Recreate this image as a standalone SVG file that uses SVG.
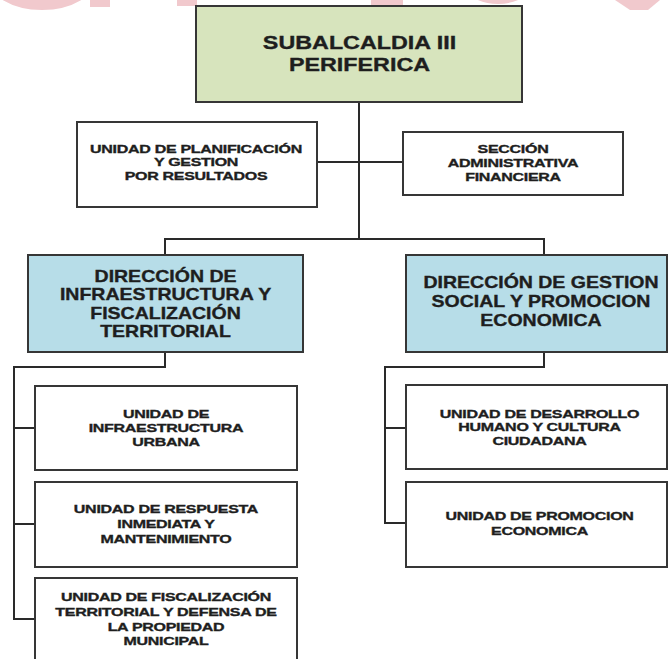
<svg xmlns="http://www.w3.org/2000/svg" width="668" height="659" viewBox="0 0 668 659">
<style>
.bx{stroke:#363636;stroke-width:2}
.wh{fill:#ffffff}
.gr{fill:#d7e4bd}
.bl{fill:#b7dde8}
.t{font-family:"Liberation Sans",Arial,sans-serif;font-weight:bold;fill:#1e1e1e;stroke:#1e1e1e;stroke-width:0.35;text-anchor:middle}
.big{font-size:18.5px}
.mid{font-size:16px}
.sm{font-size:11.5px;letter-spacing:-0.2px}
.cn{stroke:#2a2a2a;stroke-width:2;fill:none}
.wm{fill:#f1c9cd;stroke:none}
.wmr{fill:none;stroke:#f1c9cd;stroke-width:14}
</style>
<rect width="668" height="659" fill="#ffffff"/>
<g id="watermark">
<ellipse class="wmr" cx="42" cy="-27" rx="50" ry="30"/>
<rect class="wm" x="90" y="0" width="20" height="7"/>
<rect class="wm" x="177" y="0" width="20" height="6"/>
<rect class="wm" x="371" y="0" width="32" height="7"/>
<ellipse class="wmr" cx="498" cy="-35" rx="38" ry="32"/>
<polygon class="wm" points="615,0 660,0 648,10 630,10"/>
</g>
<g id="connectors">
<path class="cn" d="M359,102 V239" stroke-width="2.5"/>
<path class="cn" d="M317,162 H403"/>
<path class="cn" d="M165,255 V239 H544 V255"/>
<path class="cn" d="M165,352 V367 H14 V619 H35 M14,428 H35 M14,524 H35"/>
<path class="cn" d="M544,352 V367 H385 V523 H406 M385,428 H406"/>
</g>
<g id="subalcaldia">
<rect class="bx gr" x="196" y="6" width="326" height="96"/>
<g transform="translate(359.5,0) scale(1.26,1)">
<text class="t big" x="0" y="49">SUBALCALDIA III</text>
<text class="t big" x="0" y="71">PERIFERICA</text>
</g>
</g>
<g id="planificacion">
<rect class="bx wh" x="77" y="122" width="240" height="85"/>
<g transform="translate(196,0) scale(1.39,1)">
<text class="t sm" x="0" y="153">UNIDAD DE PLANIFICACIÓN</text>
<text class="t sm" x="0" y="166.5">Y GESTION</text>
<text class="t sm" x="0" y="180">POR RESULTADOS</text>
</g>
</g>
<g id="seccion-admin">
<rect class="bx wh" x="403" y="132" width="220" height="63"/>
<g transform="translate(513,0) scale(1.39,1)">
<text class="t sm" x="0" y="153">SECCIÓN</text>
<text class="t sm" x="0" y="167">ADMINISTRATIVA</text>
<text class="t sm" x="0" y="181">FINANCIERA</text>
</g>
</g>
<g id="dir-infraestructura">
<rect class="bx bl" x="28" y="255" width="275" height="97"/>
<g transform="translate(165.5,0) scale(1.22,1)">
<text class="t mid" x="0" y="282">DIRECCIÓN DE</text>
<text class="t mid" x="0" y="300.5">INFRAESTRUCTURA Y</text>
<text class="t mid" x="0" y="319">FISCALIZACIÓN</text>
<text class="t mid" x="0" y="337.5">TERRITORIAL</text>
</g>
</g>
<g id="dir-gestion-social">
<rect class="bx bl" x="406" y="255" width="261" height="97"/>
<g transform="translate(541,0) scale(1.22,1)">
<text class="t mid" x="0" y="288">DIRECCIÓN DE GESTION</text>
<text class="t mid" x="0" y="307">SOCIAL Y PROMOCION</text>
<text class="t mid" x="0" y="326">ECONOMICA</text>
</g>
</g>
<g id="u-infraestructura">
<rect class="bx wh" x="35" y="386" width="262" height="84"/>
<g transform="translate(166,0) scale(1.39,1)">
<text class="t sm" x="0" y="418">UNIDAD DE</text>
<text class="t sm" x="0" y="432">INFRAESTRUCTURA</text>
<text class="t sm" x="0" y="446">URBANA</text>
</g>
</g>
<g id="u-respuesta">
<rect class="bx wh" x="35" y="482" width="262" height="85"/>
<g transform="translate(166,0) scale(1.39,1)">
<text class="t sm" x="0" y="513">UNIDAD DE RESPUESTA</text>
<text class="t sm" x="0" y="528">INMEDIATA Y</text>
<text class="t sm" x="0" y="543">MANTENIMIENTO</text>
</g>
</g>
<g id="u-fiscalizacion">
<rect class="bx wh" x="35" y="578" width="262" height="100"/>
<g transform="translate(166,0) scale(1.39,1)">
<text class="t sm" x="0" y="601">UNIDAD DE FISCALIZACIÓN</text>
<text class="t sm" x="0" y="616">TERRITORIAL Y DEFENSA DE</text>
<text class="t sm" x="0" y="631">LA PROPIEDAD</text>
<text class="t sm" x="0" y="645">MUNICIPAL</text>
</g>
</g>
<g id="u-desarrollo">
<rect class="bx wh" x="406" y="385" width="261" height="84"/>
<g transform="translate(539.5,0) scale(1.39,1)">
<text class="t sm" x="0" y="418">UNIDAD DE DESARROLLO</text>
<text class="t sm" x="0" y="431">HUMANO Y CULTURA</text>
<text class="t sm" x="0" y="445">CIUDADANA</text>
</g>
</g>
<g id="u-promocion">
<rect class="bx wh" x="406" y="482" width="261" height="85"/>
<g transform="translate(539.5,0) scale(1.39,1)">
<text class="t sm" x="0" y="520">UNIDAD DE PROMOCION</text>
<text class="t sm" x="0" y="535">ECONOMICA</text>
</g>
</g>
</svg>
